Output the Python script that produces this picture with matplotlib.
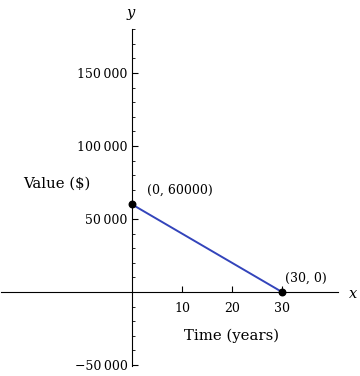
import matplotlib
matplotlib.use("Agg")
import matplotlib.pyplot as plt
from matplotlib.ticker import FixedLocator

# data
xs = [0, 30]
ys = [60000, 0]
pt_labels = ["(0, 60000)", "(30, 0)"]
x_ticks = [10, 20, 30]
y_ticks = [-50000, 50000, 100000, 150000]
y_minor = [v for v in range(-40000, 180001, 10000) if v % 50000 != 0]

plt.rcParams['font.family'] = ['DejaVu Serif']

fig = plt.figure(figsize=(3.6, 3.76), dpi=100)
ax = fig.add_axes([0, 0, 1, 1])
ax.set_xlim(-26.4, 45.6)
ax.set_ylim(-57534, 200000)

for s in ['top', 'right']:
    ax.spines[s].set_visible(False)
ax.spines['left'].set_position(('data', 0))
ax.spines['bottom'].set_position(('data', 0))
ax.spines['left'].set_bounds(-51000, 180100)
ax.spines['bottom'].set_bounds(-26.2, 41.2)

ax.xaxis.set_major_locator(FixedLocator(x_ticks))
ax.yaxis.set_major_locator(FixedLocator(y_ticks))
ax.yaxis.set_minor_locator(FixedLocator(y_minor))
ax.set_xticklabels([str(t) for t in x_ticks])
ax.set_yticklabels([("\u2212" if t < 0 else "") + f"{abs(t):,}".replace(",", "\u2009") for t in y_ticks])
ax.tick_params(axis='x', direction='in', length=4, labelsize=9, pad=7)
ax.tick_params(axis='y', which='major', direction='in', length=4, labelsize=9, pad=3)
ax.tick_params(axis='y', which='minor', direction='in', length=2.5)

ax.plot(xs, ys, color='#3344bb', lw=1.4, zorder=3)
ax.scatter(xs, ys, color='black', s=22, zorder=4, clip_on=False)
ax.text(3, 69500, pt_labels[0], fontsize=9, ha='left', va='center')
ax.text(30.6, 9500, pt_labels[1], fontsize=9, ha='left', va='center')

ax.text(-15, 74500, "Value ($)", fontsize=10.7, ha='center', va='center')
ax.text(20, -30000, "Time (years)", fontsize=10.7, ha='center', va='center')
ax.text(44.2, -1500, "x", fontsize=10.5, style='italic', ha='center', va='center')
ax.text(-0.2, 191000, "y", fontsize=10.5, style='italic', ha='center', va='center')

fig.savefig("out.png", dpi=100)
